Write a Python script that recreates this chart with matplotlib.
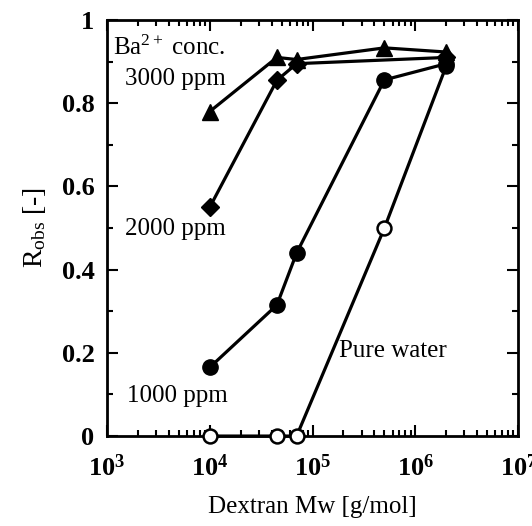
import matplotlib
matplotlib.use("Agg")
import matplotlib.pyplot as plt
from matplotlib.ticker import LogLocator, FixedLocator, NullFormatter, FixedFormatter

plt.rcParams['font.family'] = ['Liberation Serif', 'DejaVu Serif']
plt.rcParams['mathtext.fontset'] = 'custom'
plt.rcParams['mathtext.rm'] = 'Liberation Serif'
plt.rcParams['mathtext.it'] = 'Liberation Serif:italic'
plt.rcParams['mathtext.bf'] = 'Liberation Serif:bold'

# Data
mw_3000 = [1e4, 4.5e4, 7e4, 5e5, 2e6]
r_3000 = [0.78, 0.91, 0.905, 0.933, 0.923]
mw_2000 = [1e4, 4.5e4, 7e4, 2e6]
r_2000 = [0.55, 0.855, 0.895, 0.91]
mw_1000 = [1e4, 4.5e4, 7e4, 5e5, 2e6]
r_1000 = [0.165, 0.315, 0.44, 0.856, 0.895]
mw_water = [1e4, 4.5e4, 7e4, 5e5, 2e6]
r_water = [0.0, 0.0, 0.0, 0.5, 0.89]

x_ticks = [1e3, 1e4, 1e5, 1e6, 1e7]
x_ticklabels = [r'$\mathbf{10^{3}}$', r'$\mathbf{10^{4}}$', r'$\mathbf{10^{5}}$',
                r'$\mathbf{10^{6}}$', r'$\mathbf{10^{7}}$']
y_ticks = [0, 0.2, 0.4, 0.6, 0.8, 1.0]
y_ticklabels = ['0', '0.2', '0.4', '0.6', '0.8', '1']

fig = plt.figure(figsize=(5.32, 5.26), dpi=100)
ax = fig.add_axes([0.201, 0.171, 0.773, 0.791])

kw = dict(color='black', lw=2.3, clip_on=False, zorder=3)
ax.plot(mw_water, r_water, marker='o', ms=10, mfc='white', mec='black', mew=1.8, **kw)
ax.plot(mw_1000, r_1000, marker='o', ms=11, mfc='black', mec='black', **kw)
ax.plot(mw_2000, r_2000, marker='D', ms=9, mfc='black', mec='black', **kw)
ax.plot(mw_3000, r_3000, marker='^', ms=12, mfc='black', mec='black', **kw)

ax.set_xscale('log')
ax.set_xlim(1e3, 1e7)
ax.set_ylim(0, 1)
ax.xaxis.set_major_locator(FixedLocator(x_ticks))
ax.xaxis.set_major_formatter(FixedFormatter(x_ticklabels))
ax.xaxis.set_minor_locator(LogLocator(base=10, subs=range(2, 10), numticks=50))
ax.xaxis.set_minor_formatter(NullFormatter())
ax.yaxis.set_major_locator(FixedLocator(y_ticks))
ax.yaxis.set_major_formatter(FixedFormatter(y_ticklabels))
ax.yaxis.set_minor_locator(FixedLocator([0.1, 0.3, 0.5, 0.7, 0.9]))

for s in ax.spines.values():
    s.set_linewidth(2)
ax.tick_params(which='both', direction='in', top=True, right=True, width=1.5)
ax.tick_params(which='major', length=8, labelsize=19)
ax.tick_params(axis='y', which='major', pad=9)
ax.tick_params(axis='x', which='major', pad=13)
ax.tick_params(which='minor', length=4)
for lbl in ax.get_yticklabels():
    lbl.set_fontweight('bold')

ax.set_xlabel('Dextran Mw [g/mol]', fontsize=18, labelpad=11)
ax.set_ylabel(r'R$_{\mathrm{obs}}$ [-]', fontsize=20, labelpad=10)

ax.text(1.15e3, 0.933, r'Ba$^{2+}$ conc.', fontsize=18, va='center')
ax.text(1.5e3, 0.858, '3000 ppm', fontsize=18, va='center')
ax.text(1.5e3, 0.497, '2000 ppm', fontsize=18, va='center')
ax.text(1.56e3, 0.096, '1000 ppm', fontsize=18, va='center')
ax.text(1.82e5, 0.204, 'Pure water', fontsize=18, va='center')

fig.savefig('out.png', dpi=100)
